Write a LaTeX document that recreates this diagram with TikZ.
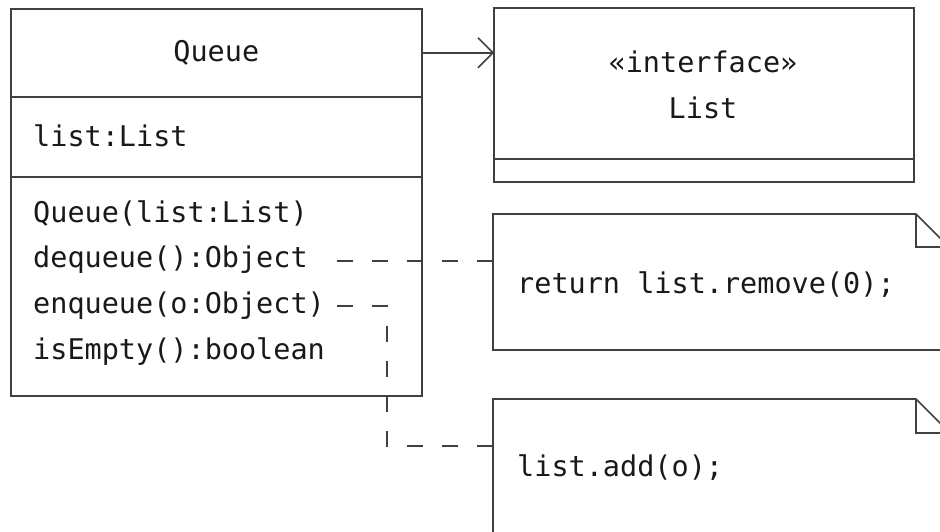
\documentclass[tikz,border=0pt]{standalone}
\usepackage{fontspec}
\setmonofont{DejaVu Sans Mono}
\begin{document}
\begin{tikzpicture}[x=1pt,y=-1pt,
  comp/.style={draw=black!75, line width=1.6pt, rectangle, inner sep=0pt, anchor=north west},
  txt/.style={font=\ttfamily\fontsize{28.5}{46}\selectfont, text=black!90, inner sep=0pt},
  ln/.style={draw=black!75, line width=1.6pt},
  dsh/.style={draw=black!75, line width=1.6pt, dash pattern=on 16pt off 19pt}]
\useasboundingbox (0,0) rectangle (940,531);
\clip (0,0) rectangle (940,531);
% Queue class
\node[comp, minimum width=411pt, minimum height=88pt] (qh) at (10,8) {};
\node[comp, minimum width=411pt, minimum height=80pt] (qa) at (10,96) {};
\node[comp, minimum width=411pt, minimum height=219pt] (qm) at (10,176) {};
\node[txt] (qname) at (qh.center) {Queue};
\node[txt, anchor=west] (attr) at (33,136) {list:List};
\node[txt, anchor=west] (m1) at (33,213) {Queue(list:List)};
\node[txt, anchor=west] (m2) at (33,260) {dequeue():Object};
\node[txt, anchor=west] (m3) at (33,306) {enqueue(o:Object)};
\node[txt, anchor=west] (m4) at (33,352) {isEmpty():boolean};
% List interface
\node[comp, minimum width=420pt, minimum height=151pt] (lh) at (493,7) {};
\node[comp, minimum width=420pt, minimum height=23pt] (lb) at (493,158) {};
\node[txt, align=center] (lname) at (703,85) {«interface»\\List};
% association arrow
\draw[ln] (qh.east) -- (qh.east -| lh.west) coordinate (tip);
\draw[ln] ([shift={(-15,-15)}]tip) -- (tip) -- ([shift={(-15,15)}]tip);
% notes
\draw[ln] (493,214) -- (916,214) -- (950,248) -- (950,350) -- (493,350) -- cycle;
\draw[ln] (916,214) -- (916,247) -- (950,247);
\coordinate (n1) at (493,282);
\node[txt, anchor=west] (t1) at (517,285) {return list.remove(0);};
\draw[ln] (493,399) -- (916,399) -- (950,433) -- (950,560) -- (493,560) -- cycle;
\draw[ln] (916,399) -- (916,433) -- (950,433);
\coordinate (n2) at (493,470);
\node[txt, anchor=west] (t2) at (517,468) {list.add(o);};
% dashed connectors
\coordinate (s1) at (337,261);
\coordinate (s2) at (337,306);
\draw[dsh] (s1) -- (s1 -| n1);
\draw[dsh] (s2) -- (387,306) -- (387,446) -- (n2 |- 0,446);
\end{tikzpicture}
\end{document}
